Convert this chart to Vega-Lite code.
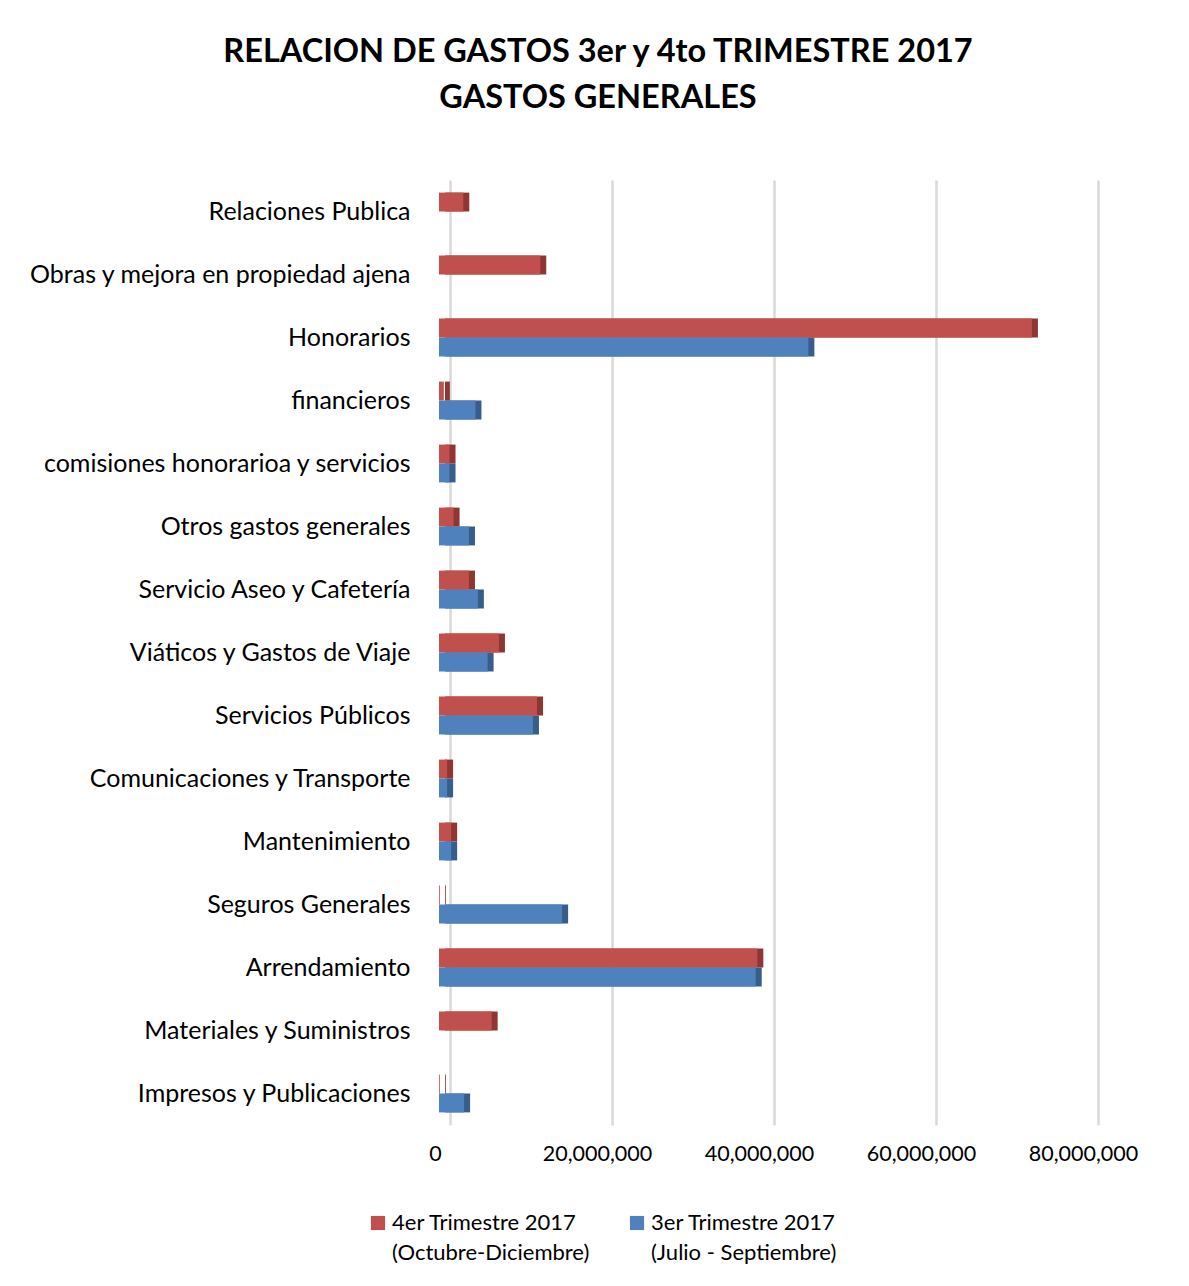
{
  "$schema": "https://vega.github.io/schema/vega-lite/v6.json",
  "autosize": "none",
  "width": 648,
  "height": 945,
  "padding": {"left": 439, "top": 180, "right": 102, "bottom": 161},
  "background": "white",
  "title": {
    "text": ["RELACION DE GASTOS 3er y 4to TRIMESTRE 2017", "GASTOS GENERALES"],
    "font": "Lato",
    "fontSize": 32.5,
    "fontWeight": "bold",
    "color": "#000000",
    "anchor": "middle",
    "dx": -165,
    "offset": 66,
    "lineHeight": 46
  },
  "data": {
    "values": [
      {"categoria": "Relaciones Publica", "serie": "4er Trimestre 2017|(Octubre-Diciembre)", "valor": 3000000},
      {"categoria": "Obras y mejora en propiedad ajena", "serie": "4er Trimestre 2017|(Octubre-Diciembre)", "valor": 12500000},
      {"categoria": "Honorarios", "serie": "4er Trimestre 2017|(Octubre-Diciembre)", "valor": 73200000},
      {"categoria": "Honorarios", "serie": "3er Trimestre 2017|(Julio - Septiembre)", "valor": 45600000},
      {"categoria": "financieros", "serie": "4er Trimestre 2017|(Octubre-Diciembre)", "valor": 600000},
      {"categoria": "financieros", "serie": "3er Trimestre 2017|(Julio - Septiembre)", "valor": 4500000},
      {"categoria": "comisiones honorarioa y servicios", "serie": "4er Trimestre 2017|(Octubre-Diciembre)", "valor": 1300000},
      {"categoria": "comisiones honorarioa y servicios", "serie": "3er Trimestre 2017|(Julio - Septiembre)", "valor": 1300000},
      {"categoria": "Otros gastos generales", "serie": "4er Trimestre 2017|(Octubre-Diciembre)", "valor": 1800000},
      {"categoria": "Otros gastos generales", "serie": "3er Trimestre 2017|(Julio - Septiembre)", "valor": 3700000},
      {"categoria": "Servicio Aseo y Cafetería", "serie": "4er Trimestre 2017|(Octubre-Diciembre)", "valor": 3700000},
      {"categoria": "Servicio Aseo y Cafetería", "serie": "3er Trimestre 2017|(Julio - Septiembre)", "valor": 4800000},
      {"categoria": "Viáticos y Gastos de Viaje", "serie": "4er Trimestre 2017|(Octubre-Diciembre)", "valor": 7400000},
      {"categoria": "Viáticos y Gastos de Viaje", "serie": "3er Trimestre 2017|(Julio - Septiembre)", "valor": 6000000},
      {"categoria": "Servicios Públicos", "serie": "4er Trimestre 2017|(Octubre-Diciembre)", "valor": 12100000},
      {"categoria": "Servicios Públicos", "serie": "3er Trimestre 2017|(Julio - Septiembre)", "valor": 11600000},
      {"categoria": "Comunicaciones y Transporte", "serie": "4er Trimestre 2017|(Octubre-Diciembre)", "valor": 1000000},
      {"categoria": "Comunicaciones y Transporte", "serie": "3er Trimestre 2017|(Julio - Septiembre)", "valor": 1000000},
      {"categoria": "Mantenimiento", "serie": "4er Trimestre 2017|(Octubre-Diciembre)", "valor": 1500000},
      {"categoria": "Mantenimiento", "serie": "3er Trimestre 2017|(Julio - Septiembre)", "valor": 1500000},
      {"categoria": "Seguros Generales", "serie": "4er Trimestre 2017|(Octubre-Diciembre)", "valor": 100000},
      {"categoria": "Seguros Generales", "serie": "3er Trimestre 2017|(Julio - Septiembre)", "valor": 15200000},
      {"categoria": "Arrendamiento", "serie": "4er Trimestre 2017|(Octubre-Diciembre)", "valor": 39300000},
      {"categoria": "Arrendamiento", "serie": "3er Trimestre 2017|(Julio - Septiembre)", "valor": 39100000},
      {"categoria": "Materiales y Suministros", "serie": "4er Trimestre 2017|(Octubre-Diciembre)", "valor": 6500000},
      {"categoria": "Impresos y Publicaciones", "serie": "4er Trimestre 2017|(Octubre-Diciembre)", "valor": 100000},
      {"categoria": "Impresos y Publicaciones", "serie": "3er Trimestre 2017|(Julio - Septiembre)", "valor": 3100000}
    ]
  },
  "encoding": {
    "y": {
      "field": "categoria",
      "type": "nominal",
      "sort": ["Relaciones Publica", "Obras y mejora en propiedad ajena", "Honorarios", "financieros", "comisiones honorarioa y servicios", "Otros gastos generales", "Servicio Aseo y Cafetería", "Viáticos y Gastos de Viaje", "Servicios Públicos", "Comunicaciones y Transporte", "Mantenimiento", "Seguros Generales", "Arrendamiento", "Materiales y Suministros", "Impresos y Publicaciones"],
      "scale": {"paddingInner": 0.4, "paddingOuter": 0.2},
      "axis": {
        "title": null,
        "domain": false,
        "ticks": false,
        "labelFont": "Lato",
        "labelFontSize": 25,
        "labelColor": "#000000",
        "labelPadding": 29,
        "labelLimit": 440
      }
    },
    "yOffset": {
      "field": "serie",
      "type": "nominal",
      "sort": ["4er Trimestre 2017|(Octubre-Diciembre)", "3er Trimestre 2017|(Julio - Septiembre)"],
      "scale": {"paddingInner": 0, "paddingOuter": 0}
    },
    "x": {
      "field": "valor",
      "type": "quantitative",
      "scale": {"domain": [0, 80000000], "nice": false},
      "axis": {
        "title": null,
        "values": [0, 20000000, 40000000, 60000000, 80000000],
        "format": ",d",
        "domain": false,
        "ticks": false,
        "grid": true,
        "gridColor": "#D9D9D9",
        "gridWidth": 2.5,
        "tickOffset": 11,
        "labelOffset": -15,
        "labelFlush": false,
        "labelFont": "Lato",
        "labelFontSize": 21.5,
        "labelColor": "#000000",
        "labelPadding": 18
      }
    }
  },
  "layer": [
    {
      "mark": {"type": "bar", "xOffset": 6},
      "encoding": {
        "color": {
          "field": "serie",
          "type": "nominal",
          "sort": ["4er Trimestre 2017|(Octubre-Diciembre)", "3er Trimestre 2017|(Julio - Septiembre)"],
          "scale": {"range": ["#8E3633", "#385D8A"]},
          "legend": null
        }
      }
    },
    {
      "mark": {"type": "bar"},
      "encoding": {
        "color": {
          "field": "serie",
          "type": "nominal",
          "sort": ["4er Trimestre 2017|(Octubre-Diciembre)", "3er Trimestre 2017|(Julio - Septiembre)"],
          "scale": {"range": ["#C0504D", "#4F81BD"]},
          "legend": {
            "title": null,
            "orient": "none",
            "direction": "horizontal",
            "legendX": -72,
            "legendY": 1032,
            "symbolType": "square",
            "symbolSize": 200,
            "symbolStrokeWidth": 0,
            "labelFont": "Lato",
            "labelFontSize": 22,
            "labelColor": "#000000",
            "labelLimit": 400,
            "labelOffset": 3,
            "columnPadding": 36,
            "labelExpr": "split(datum.label, '|')",
            "encode": {"labels": {"update": {"lineHeight": {"value": 30}}}}
          }
        }
      }
    }
  ],
  "resolve": {"scale": {"color": "independent"}},
  "config": {
    "view": {"stroke": null}
  }
}
